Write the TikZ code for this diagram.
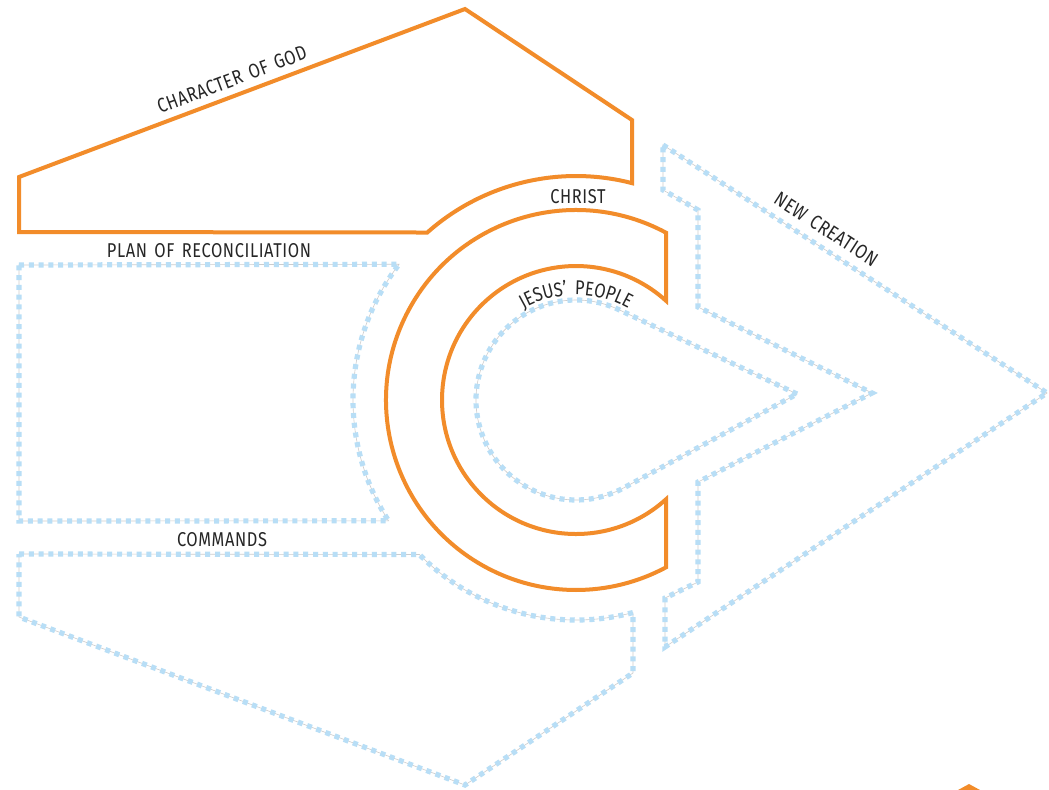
\documentclass[tikz,border=0pt]{standalone}
\usepackage{fontspec}
\setmainfont{Fira Sans}[FakeStretch=0.82, LetterSpace=3, WordSpace=1.5]
\usepackage{xcolor}
\usetikzlibrary{calc, decorations.text}
\definecolor{godorange}{RGB}{242,140,42}
\definecolor{skyblue}{RGB}{184,222,246}

\begin{document}
\begin{tikzpicture}[x=0.5pt, y=0.5pt,
	orangeline/.style={draw=godorange, line width=2pt, line join=miter},
	dotline/.style={draw=skyblue, line width=2.6pt, dash pattern=on 2.5pt off 2.4pt,
		preaction={draw=gray!40, line width=0.3pt}},
	lbl/.style={font=\fontsize{10}{12}\selectfont, text=black!85, inner sep=1pt}]
	% page: 1049 x 789 pixels
	\fill[white] (0,0) rectangle (1049,-789);
	\useasboundingbox (0,0) rectangle (1049,-789);
	\coordinate (C) at (576,-400);
	% character of God
	\draw[orangeline] (19,-177)
	-- node[lbl, sloped, above=2.5pt, pos=0.49] (godlbl) {CHARACTER OF GOD} (465,-9)
	-- (632,-120) -- ($(C)+(75.5:112pt)$)
	arc[start angle=75.5, end angle=131.6, radius=112pt]
	-- (19,-232) -- cycle;
	% Christ: the C
	\draw[orangeline] ($(C)+(61.7:95pt)$)
	arc[start angle=61.7, end angle=298.3, radius=95pt]
	-- ($(C)+(-47.8:67pt)$)
	arc[start angle=-47.8, end angle=-312.2, radius=67pt] -- cycle;
	\node[lbl] (christlbl) at (578,-197) {CHRIST};
	% plan of reconciliation
	\draw[dotline] (19,-265) -- ($(C)+(142.5:111.5pt)$)
	arc[start angle=142.5, end angle=212.8, radius=111.5pt]
	-- (19,-521) -- cycle;
	\node[lbl] (planlbl) at (209,-251) {PLAN OF RECONCILIATION};
	% commands
	\draw[dotline] (19,-554) -- ($(C)+(224.6:110pt)$)
	arc[start angle=224.6, end angle=285, radius=110pt]
	-- (633,-673) -- (465,-785) -- (19,-617) -- cycle;
	\node[lbl] (cmdlbl) at (222,-540) {COMMANDS};
	% Jesus' people
	\draw[dotline] (797,-394) -- ($(C)+(64.7:50pt)$)
	arc[start angle=64.7, end angle=298.5, radius=50pt] -- cycle;
	\path[decorate, decoration={text along path, text align=center,
		text={|\fontsize{10}{12}\selectfont\color{black!85}|JESUS' PEOPLE}}]
	($(C)+(160:52.5pt)$) arc[start angle=160, end angle=20, radius=52.5pt];
	% new creation
	\draw[dotline] (663,-145)
	-- node[lbl, sloped, above=3pt, pos=0.40] (newlbl) {NEW CREATION} (1047,-393)
	-- (665,-647) -- (665,-598) -- (698,-582) -- (698,-482) -- (872,-393)
	-- (698,-307) -- (698,-210) -- (663,-190) -- cycle;
	% tip of a shape cut off at the lower edge
	\fill[godorange] (958,-790) -- (969,-784) -- (980,-790) -- cycle;
\end{tikzpicture}
\end{document}
